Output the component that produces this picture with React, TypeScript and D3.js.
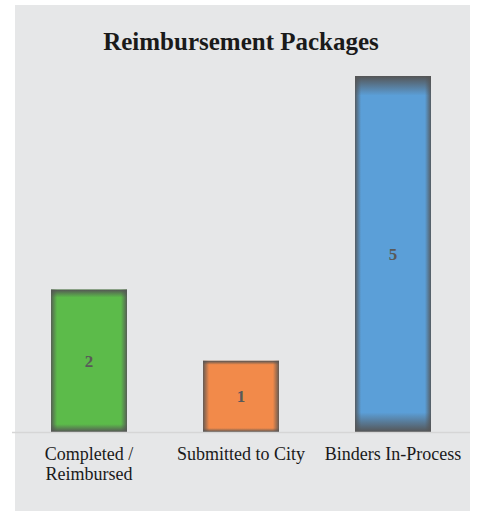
import * as d3 from 'd3';
import * as React from 'react';

const WIDTH = 477;
const HEIGHT = 516;

const categories = ['Completed / Reimbursed', 'Submitted to City', 'Binders In-Process'];
const categoryLines = [['Completed /', 'Reimbursed'], ['Submitted to City'], ['Binders In-Process']];
const values = [2, 1, 5];
const colors = ['#5cbb4a', '#f28a4a', '#5b9fd8'];

const FONT = '"Liberation Serif", "Times New Roman", serif';

export default function App() {
  const x = d3
    .scaleBand<string>()
    .domain(categories)
    .range([13, 469])
    .paddingInner(0.5)
    .paddingOuter(0.25);
  const y = d3.scaleLinear().domain([0, 5]).range([432, 76]);

  return (
    <svg
      width={WIDTH}
      height={HEIGHT}
      style={{ position: 'absolute', left: 0, top: 0 }}
    >
      <defs>
        <linearGradient id="shadeV" x1="0" y1="0" x2="0" y2="1">
          <stop offset="0" stopColor="#555" stopOpacity={1} />
          <stop offset="0.055" stopColor="#555" stopOpacity={0} />
          <stop offset="0.945" stopColor="#555" stopOpacity={0} />
          <stop offset="1" stopColor="#555" stopOpacity={1} />
        </linearGradient>
        <linearGradient id="shadeH" x1="0" y1="0" x2="1" y2="0">
          <stop offset="0" stopColor="#555" stopOpacity={0.9} />
          <stop offset="0.08" stopColor="#555" stopOpacity={0} />
          <stop offset="0.92" stopColor="#555" stopOpacity={0} />
          <stop offset="1" stopColor="#555" stopOpacity={0.9} />
        </linearGradient>
      </defs>
      <rect x={15} y={5} width={455} height={506} fill="#e6e7e8" />
      <text
        x={241}
        y={50}
        textAnchor="middle"
        fontFamily={FONT}
        fontWeight="bold"
        fontSize={25}
        fill="#1a1a1a"
      >
        Reimbursement Packages
      </text>
      {categories.map((c, i) => {
        const bx = x(c) as number;
        const by = y(values[i]);
        const bh = y(0) - by;
        const bw = x.bandwidth();
        return (
          <g key={c}>
            <rect x={bx} y={by} width={bw} height={bh} fill={colors[i]} />
            <rect x={bx} y={by} width={bw} height={bh} fill="url(#shadeH)" />
            <rect x={bx} y={by} width={bw} height={bh} fill="url(#shadeV)" />
            <text
              x={bx + bw / 2}
              y={by + bh / 2}
              dy="0.35em"
              textAnchor="middle"
              fontFamily={FONT}
              fontWeight="bold"
              fontSize={17}
              fill="#595959"
            >
              {values[i]}
            </text>
          </g>
        );
      })}
      <line x1={12} x2={470} y1={432.5} y2={432.5} stroke="#d6d6d6" strokeWidth={1.5} />
      {categories.map((c, i) => (
        <text
          key={c}
          x={(x(c) as number) + x.bandwidth() / 2}
          y={460}
          textAnchor="middle"
          fontFamily={FONT}
          fontSize={18}
          fill="#1a1a1a"
        >
          {categoryLines[i].map((line, j) => (
            <tspan key={line} x={(x(c) as number) + x.bandwidth() / 2} dy={j === 0 ? 0 : 20}>
              {line}
            </tspan>
          ))}
        </text>
      ))}
    </svg>
  );
}
